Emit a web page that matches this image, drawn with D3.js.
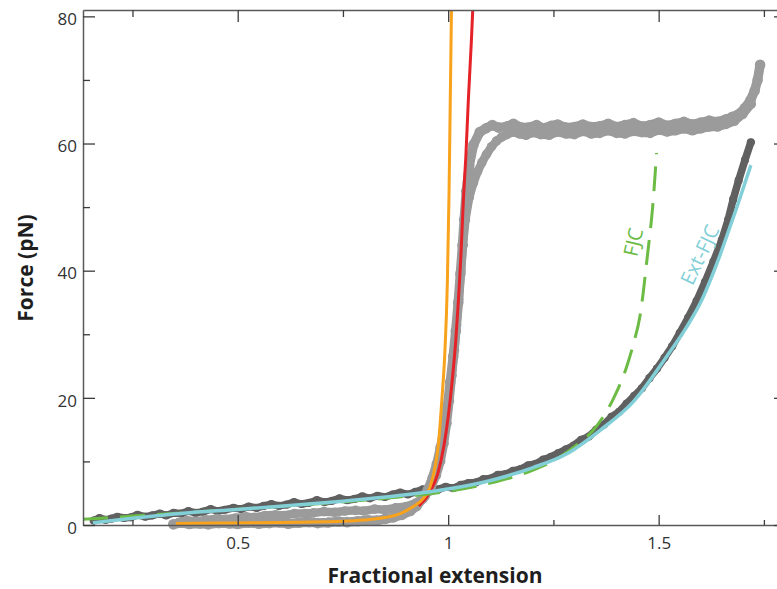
<!DOCTYPE html>
<html>
<head>
<meta charset="utf-8">
<script src="https://cdn.jsdelivr.net/npm/d3@7"></script>
<style>
  body { margin: 0; background: #fff; }
  svg { display: block; }
  .tick text { font-family: "Open Sans", "Noto Sans", sans-serif; font-size: 17px; fill: #333; }
</style>
</head>
<body>
<svg id="chart" width="777" height="589"></svg>
<script>
// Axis ticks
const xMajorTicks = [0.5, 1, 1.5];
const xMinorTicks = [0.25, 0.75, 1.25, 1.75];
const yMajorTicks = [0, 20, 40, 60, 80];
const yMinorTicks = [10, 30, 50, 70];

// Measured force-extension trace without overstretching (extension, force pN)
const extFjcData = [
  [0.158,0.7],[0.172,1.1],[0.186,0.8],[0.2,1.0],[0.214,1.3],[0.23,1.1],[0.246,1.2],[0.262,1.6],[0.28,1.3],
  [0.297,1.5],[0.315,1.8],[0.33,1.5],[0.348,1.9],[0.366,1.8],[0.383,2.2],[0.4,1.9],[0.418,2.1],[0.436,2.5],
  [0.452,2.2],[0.47,2.4],[0.49,2.7],[0.508,2.5],[0.526,2.9],[0.545,2.7],[0.562,3.0],[0.58,3.3],[0.598,3.0],
  [0.616,3.2],[0.634,3.6],[0.652,3.3],[0.67,3.5],[0.688,3.9],[0.706,3.6],[0.724,3.8],[0.742,4.2],[0.76,3.9],
  [0.778,4.1],[0.796,4.5],[0.814,4.2],[0.832,4.6],[0.85,4.4],[0.868,4.8],[0.886,5.1],[0.904,4.8],[0.922,5.2],
  [0.94,5.6],[0.958,5.3],[0.976,5.6],[0.994,6.0],[1.012,5.8],[1.03,6.3],[1.048,6.6],[1.066,6.7],[1.084,7.2],
  [1.1,7.3],[1.118,7.9],[1.136,8.0],[1.154,8.5],[1.172,8.8],[1.19,9.4],[1.208,9.6],[1.226,10.3],[1.244,10.7],
  [1.262,11.3],[1.28,11.9],[1.298,12.5],[1.316,13.4],[1.334,13.9],[1.352,15.0],[1.37,15.8],[1.388,17.0],
  [1.406,17.8],[1.424,19.1],[1.442,20.3],[1.46,21.5],[1.478,23.1],[1.496,24.6],[1.514,26.3],[1.532,28.1],
  [1.55,30.2],[1.57,32.6],[1.59,35.2],[1.61,38.2],[1.63,41.4],[1.65,44.8],[1.665,48.0],[1.677,51.2],
  [1.69,54.2],[1.705,57.4],[1.719,60.2]
];

// Overstretching trace, stretching branch
const overstretchA = [
  [0.347,0.1],[0.365,0.35],[0.385,0.15],[0.41,0.25],[0.43,0.1],[0.455,0.3],[0.48,0.25],[0.5,0.15],
  [0.525,0.35],[0.55,0.2],[0.575,0.3],[0.6,0.4],[0.62,0.2],[0.645,0.35],[0.67,0.45],[0.69,0.3],[0.715,0.4],
  [0.74,0.55],[0.76,0.45],[0.785,0.6],[0.81,0.75],[0.83,0.7],[0.85,0.95],[0.87,1.2],[0.89,1.6],[0.91,2.2],
  [0.925,3.0],[0.94,4.2],[0.952,5.6],[0.963,7.4],[0.973,9.6],[0.982,12.2],[0.99,15.0],[0.998,18.5],
  [1.005,22.5],[1.012,26.5],[1.018,30.5],[1.024,35.0],[1.029,39.5],[1.034,44.0],[1.038,48.0],[1.043,52.5],
  [1.05,56.5],[1.06,59.8],[1.075,61.8],[1.09,62.4],[1.105,62.9],[1.12,62.5],[1.14,62.7],[1.155,63.1],
  [1.17,62.6],[1.19,62.5],[1.21,62.9],[1.225,62.4],[1.245,62.8],[1.26,63.0],[1.28,62.5],[1.30,62.6],
  [1.32,63.0],[1.34,62.6],[1.36,62.7],[1.38,63.1],[1.40,62.6],[1.42,62.9],[1.44,63.2],[1.46,62.7],
  [1.48,62.9],[1.50,63.3],[1.52,62.8],[1.54,63.1],[1.56,63.4],[1.58,63.0],[1.60,63.3],[1.62,63.6],
  [1.64,63.4],[1.66,63.8],[1.675,64.2],[1.69,64.6],[1.705,65.6],[1.718,66.8],[1.728,68.3],[1.735,70.0],
  [1.741,72.4]
];

// Overstretching trace, relaxation branch
const overstretchB = [
  [0.36,0.4],[0.38,0.7],[0.40,0.6],[0.425,0.8],[0.45,1.0],[0.47,0.9],[0.495,1.1],[0.52,1.3],[0.54,1.2],
  [0.565,1.5],[0.59,1.6],[0.61,1.5],[0.635,1.8],[0.66,1.8],[0.68,1.9],[0.705,2.1],[0.73,2.0],[0.755,2.2],
  [0.78,2.3],[0.80,2.2],[0.825,2.5],[0.85,2.4],[0.875,2.7],[0.90,2.9],[0.925,3.5],[0.945,4.5],[0.96,6.0],
  [0.972,7.8],[0.982,10.0],[0.99,12.8],[0.997,16.0],[1.003,19.5],[1.009,23.5],[1.015,27.5],[1.02,31.5],
  [1.025,35.5],[1.03,40.0],[1.035,44.0],[1.041,48.0],[1.05,51.5],[1.06,53.8],[1.07,55.6],[1.08,57.0],
  [1.091,58.3],[1.103,59.5],[1.115,60.4],[1.127,61.0],[1.139,61.4],[1.155,61.8],[1.17,61.5],[1.185,61.3],
  [1.20,61.7],[1.22,61.4],[1.24,61.3],[1.26,61.8],[1.28,61.5],[1.30,61.4],[1.32,61.9],[1.34,61.5],
  [1.36,61.6],[1.38,62.0],[1.40,61.6],[1.42,61.5],[1.44,61.9],[1.46,61.7],[1.48,61.6],[1.50,62.1],
  [1.52,61.8],[1.54,62.0],[1.56,62.3],[1.58,62.0],[1.60,62.3],[1.62,62.6],[1.64,62.6],[1.66,63.0],
  [1.68,63.5],[1.70,64.6],[1.72,66.2]
];

// Model curves
const wlcOrange = [
  [0.353,0.25],[0.45,0.3],[0.55,0.35],[0.65,0.45],[0.75,0.6],[0.80,0.8],[0.838,1.05],[0.886,1.8],
  [0.917,2.9],[0.941,4.2],[0.957,6.0],[0.969,9.2],[0.977,12.8],[0.985,19.7],[0.992,27.0],
  [0.998,38.0],[1.002,52.0],[1.005,67.0],[1.008,82.0]
];
const wlcRed = [
  [0.93,3.0],[0.955,5.0],[0.975,8.0],[0.99,12.5],[1.0,17.0],[1.01,23.0],[1.018,29.0],[1.024,35.0],
  [1.03,42.0],[1.036,51.0],[1.042,58.0],[1.048,67.0],[1.055,76.0],[1.059,82.0]
];
const fjcCurve = [
  [0.1325,0.9],[0.25,1.4],[0.4,2.05],[0.55,2.7],[0.7,3.4],[0.85,4.2],[1.0,5.3],[1.1,6.6],[1.2,8.6],
  [1.25,10.1],[1.3,12.3],[1.353,15.6],[1.392,19.8],[1.424,24.9],[1.44,28.5],[1.456,33.0],
  [1.473,42.2],[1.487,51.0],[1.495,58.5]
];
const extFjcCurve = [
  [0.156,0.36],[0.25,1.05],[0.37,1.84],[0.5,2.45],[0.61,3.0],[0.75,3.75],[0.845,4.35],[0.964,5.3],
  [1.076,6.6],[1.123,7.4],[1.2,9.0],[1.282,11.2],[1.361,14.9],[1.44,19.4],[1.519,26.5],[1.567,31.2],
  [1.598,34.8],[1.646,42.5],[1.67,47.0],[1.689,50.6],[1.705,53.8],[1.719,56.6]
];

const curveLabels = [
  { text: "FJC", x: 1.44, f: 44.5, angle: -77, color: "#6cbb45" },
  { text: "Ext-FJC", x: 1.598, f: 42.5, angle: -64.5, color: "#82cfd8" }
];

const svg = d3.select("#chart");
const x = d3.scaleLinear().domain([0.1325, 1.8025]).range([83, 786]);
const y = d3.scaleLinear().domain([0, 81]).range([525, 10]);

svg.append("defs").append("clipPath").attr("id", "plot")
  .append("rect").attr("x", 83).attr("y", 10).attr("width", 703).attr("height", 521);

const plot = svg.append("g").attr("clip-path", "url(#plot)");
const line = d3.line().x(d => x(d[0])).y(d => y(d[1]));
const smooth = d3.line().x(d => x(d[0])).y(d => y(d[1])).curve(d3.curveMonotoneX);

// Noisy measured traces: a thick polyline plus a dot on every sample
function band(data, color, width, r) {
  plot.append("path").datum(data).attr("d", line)
    .attr("fill", "none").attr("stroke", color).attr("stroke-width", width)
    .attr("stroke-linejoin", "round").attr("stroke-linecap", "round");
  plot.append("g").selectAll("circle").data(data).join("circle")
    .attr("cx", d => x(d[0])).attr("cy", d => y(d[1])).attr("r", r).attr("fill", color);
}

band(extFjcData, "#606060", 7.5, 4.1);
band(overstretchB, "#9b9b9b", 8.5, 4.8);
band(overstretchA, "#9b9b9b", 9.5, 5.3);

function curve(data, color, width, dash) {
  const p = plot.append("path").datum(data).attr("d", smooth)
    .attr("fill", "none").attr("stroke", color).attr("stroke-width", width)
    .attr("stroke-linecap", "butt");
  if (dash) p.attr("stroke-dasharray", dash);
}
curve(wlcRed, "#e42228", 3);
curve(wlcOrange, "#f9a21b", 3);
curve(fjcCurve, "#6cbb45", 3, "25,12");
curve(extFjcCurve, "#82cfd8", 3.5);

svg.append("g").selectAll("text").data(curveLabels).join("text")
  .attr("transform", d => `translate(${x(d.x)},${y(d.f)}) rotate(${d.angle})`)
  .attr("text-anchor", "middle").attr("dy", "0.35em")
  .attr("font-family", "'Open Sans', 'Noto Sans', sans-serif").attr("font-size", 20)
  .attr("fill", d => d.color).text(d => d.text);

// Axes: ticks point into the plot on all four sides
function styleAxis(g) {
  g.selectAll(".domain").attr("stroke", "#5a5a5a").attr("stroke-width", 1.5);
  g.selectAll(".tick line").attr("stroke", "#3c3c3c").attr("stroke-width", 1.3);
}
const axes = svg.append("g");
axes.append("g").attr("transform", "translate(0,525)")
  .call(d3.axisBottom(x).tickValues(xMajorTicks).tickFormat(d3.format("")).tickSizeInner(-10).tickSizeOuter(0).tickPadding(12))
  .call(styleAxis);
axes.append("g").attr("transform", "translate(0,525)")
  .call(d3.axisBottom(x).tickValues(xMinorTicks).tickFormat("").tickSizeInner(-5).tickSizeOuter(0))
  .call(g => g.select(".domain").remove()).call(styleAxis);
axes.append("g").attr("transform", "translate(0,10)")
  .call(d3.axisTop(x).tickValues(xMajorTicks).tickFormat("").tickSizeInner(-12).tickSizeOuter(0))
  .call(styleAxis);
axes.append("g").attr("transform", "translate(0,10)")
  .call(d3.axisTop(x).tickValues(xMinorTicks).tickFormat("").tickSizeInner(-7).tickSizeOuter(0))
  .call(g => g.select(".domain").remove()).call(styleAxis);
axes.append("g").attr("transform", "translate(83,0)")
  .call(d3.axisLeft(y).tickValues(yMajorTicks).tickSizeInner(-12).tickSizeOuter(0).tickPadding(6))
  .call(styleAxis)
  .call(g => g.selectAll(".tick text").attr("dy", "0.48em"));
axes.append("g").attr("transform", "translate(83,0)")
  .call(d3.axisLeft(y).tickValues(yMinorTicks).tickFormat("").tickSizeInner(-7).tickSizeOuter(0))
  .call(g => g.select(".domain").remove()).call(styleAxis);
axes.append("g").attr("transform", "translate(786,0)")
  .call(d3.axisRight(y).tickValues(yMajorTicks).tickFormat("").tickSizeInner(-12).tickSizeOuter(0))
  .call(styleAxis);

// Axis titles
svg.append("text").attr("x", 435).attr("y", 583).attr("text-anchor", "middle")
  .attr("font-family", "'Open Sans', 'Noto Sans', sans-serif").attr("font-weight", 700)
  .attr("font-size", 21).attr("fill", "#1e1e1e").text("Fractional extension");
svg.append("text").attr("transform", "translate(33,268) rotate(-90)").attr("text-anchor", "middle")
  .attr("font-family", "'Open Sans', 'Noto Sans', sans-serif").attr("font-weight", 700)
  .attr("font-size", 21).attr("fill", "#1e1e1e").text("Force (pN)");
</script>
</body>
</html>
